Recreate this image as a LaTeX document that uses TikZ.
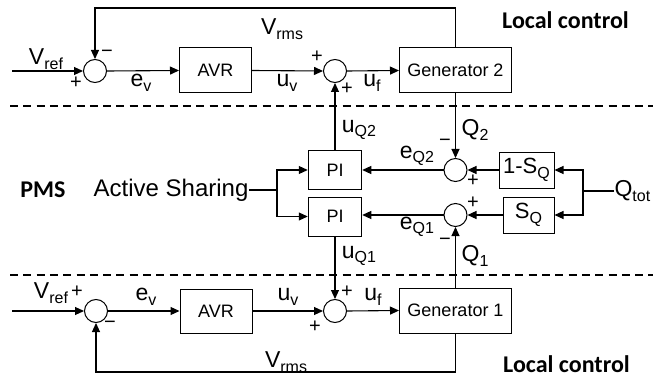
\documentclass[tikz,border=0pt]{standalone}
\usepackage{fontspec}
\setmainfont{Liberation Sans}
\newfontfamily\calibfont{Carlito}
\usetikzlibrary{arrows.meta}
\newcommand{\sbs}[2]{#1\raisebox{-0.2em}{\fontsize{16}{16}\selectfont #2}}
\tikzset{
  box/.style={draw, line width=1pt, inner sep=0pt, font=\fontsize{18}{20}\selectfont},
  sumc/.style={draw, line width=1pt, circle, minimum size=23pt, inner sep=0pt},
  arr/.style={-{Triangle[length=9pt,width=8pt]}},
  lab/.style={font=\fontsize{23}{26}\selectfont, inner sep=0pt},
  sgn/.style={font=\fontsize{20}{22}\selectfont, inner sep=0pt},
  sepline/.style={dash pattern=on 8pt off 5.3pt, line width=1.8pt},
  boldlab/.style={font=\calibfont\bfseries\fontsize{24}{28}\selectfont, inner sep=0pt}
}
\begin{document}
\begin{tikzpicture}[x=1pt,y=-1pt,line width=1.1pt]
\useasboundingbox (0,0) rectangle (653,377);
% separators
\draw[sepline] (10,106) -- (653,106);
\draw[sepline] (10,275) -- (653,275);
% top loop
\node[sumc] (s1) at (95,71) {};
\node[box, minimum width=72pt, minimum height=45pt] (avr1) at (215.5,70.5) {AVR};
\node[sumc] (s2) at (335,71) {};
\node[box, minimum width=112pt, minimum height=45pt] (g2) at (455.5,70.5) {Generator 2};
\coordinate (in1) at (12,71);
\coordinate (t1) at (455.5,8);
\draw[arr] (in1) -- (s1.west);
\draw[arr] (s1.east) -- (avr1.west);
\draw[arr] (avr1.east) -- (s2.west);
\draw[arr] (s2.east) -- (g2.west);
\draw[arr] (g2.north) -- (t1) -| (s1.north);
% middle
\node[box, minimum width=53.5pt, minimum height=39pt] (pi2) at (335,170) {PI};
\node[box, minimum width=53.5pt, minimum height=39pt] (pi1) at (335,216.5) {PI};
\node[sumc] (q2) at (455.5,170) {};
\node[sumc] (q1) at (455.5,215) {};
\node[box, font=\fontsize{22}{24}\selectfont, minimum width=55pt, minimum height=36pt] (osq) at (526.5,170) {1-\sbs{S}{Q}};
\node[box, font=\fontsize{22}{24}\selectfont, minimum width=51pt, minimum height=36pt] (sq) at (528.5,215) {\sbs{S}{Q}};
\node[lab, anchor=west] (qtot) at (614,191) {\sbs{Q}{tot}};
\node[lab, font=\fontsize{24}{26}\selectfont, anchor=east] (as) at (249,190) {Active Sharing};
\coordinate (asj) at (277,190);
\coordinate (qj) at (583,191);
\draw (as.east) -- (asj);
\draw[arr] (asj) |- (pi2.west);
\draw[arr] (asj) |- (pi1.west);
\draw (qtot.west) -- (qj);
\draw[arr] (qj) |- (osq.east);
\draw[arr] (qj) |- (sq.east);
\draw[arr] (osq.west) -- (q2.east);
\draw[arr] (sq.west) -- (q1.east);
\draw[arr] (q2.west) -- (q2.west -| pi2.east);
\draw[arr] (q1.west) -- (q1.west -| pi1.east);
\draw[arr] (g2.south) -- (q2.north);
\draw[arr] (pi2.north) -- (s2.south);
% bottom loop
\node[sumc] (s3) at (96,311) {};
\node[box, minimum width=72pt, minimum height=44pt] (avr2) at (216,311) {AVR};
\node[sumc] (s4) at (335,311) {};
\node[box, minimum width=112pt, minimum height=45pt] (g1) at (455.5,310.5) {Generator 1};
\coordinate (in3) at (12,311);
\coordinate (b1) at (455.5,372);
\draw[arr] (in3) -- (s3.west);
\draw[arr] (s3.east) -- (avr2.west);
\draw[arr] (avr2.east) -- (s4.west);
\draw[arr] (s4.east) -- (g1.west);
\draw[arr] (g1.south) -- (b1) -| (s3.south);
\draw[arr] (g1.north) -- (q1.south);
\draw[arr] (pi1.south) -- (s4.north);
% signs
\node[sgn] (m1) at (107,54) {−};
\node[sgn] (p1) at (76,83) {+};
\node[sgn] (p2) at (317,57) {+};
\node[sgn] (p3) at (347,89) {+};
\node[sgn] (m2) at (445,143) {−};
\node[sgn] (p4) at (473,181) {+};
\node[sgn] (p5) at (473,203) {+};
\node[sgn] (m3) at (445,242) {−};
\node[sgn] (p6) at (77,292) {+};
\node[sgn] (m4) at (110,325) {−};
\node[sgn] (p7) at (347,292) {+};
\node[sgn] (p8) at (315,327) {+};
% labels
\node[lab] (vref1) at (46,59) {\sbs{V}{ref}};
\node[lab] (ev1) at (141,83) {\sbs{e}{v}};
\node[lab] (uv1) at (287,83) {\sbs{u}{v}};
\node[lab] (uf1) at (372,83) {\sbs{u}{f}};
\node[lab] (vrms1) at (282,29) {\sbs{V}{rms}};
\node[lab] (uq2) at (359,130) {\sbs{u}{Q2}};
\node[lab] (lq2) at (475,130) {\sbs{Q}{2}};
\node[lab] (eq2) at (417,156) {\sbs{e}{Q2}};
\node[lab] (eq1) at (417,227) {\sbs{e}{Q1}};
\node[lab] (uq1) at (359,256) {\sbs{u}{Q1}};
\node[lab] (lq1) at (475,256) {\sbs{Q}{1}};
\node[lab] (vref3) at (51,293) {\sbs{V}{ref}};
\node[lab] (ev3) at (146,297) {\sbs{e}{v}};
\node[lab] (uv3) at (288,297) {\sbs{u}{v}};
\node[lab] (uf3) at (373,297) {\sbs{u}{f}};
\node[lab] (vrms3) at (286,362) {\sbs{V}{rms}};
\node[boldlab] (lc1) at (565.5,20) {Local control};
\node[boldlab] (lc2) at (566.5,364) {Local control};
\node[boldlab] (pms) at (43,190) {PMS};
\end{tikzpicture}
\end{document}
